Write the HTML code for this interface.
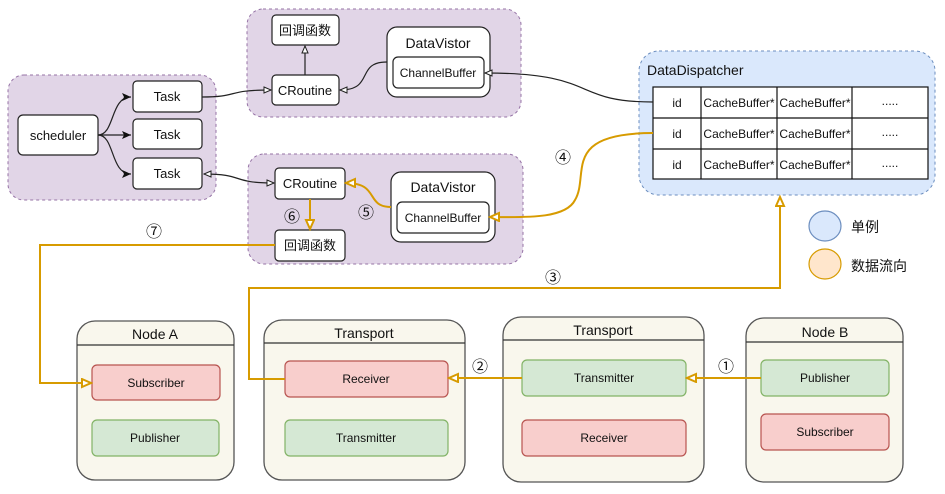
<!DOCTYPE html>
<html><head><meta charset="utf-8"><style>
html,body{margin:0;padding:0;background:#fff;}
svg{display:block;}
text{font-family:"Liberation Sans","Noto Sans CJK SC",sans-serif;fill:#111;}
</style></head><body>
<svg width="945" height="494" viewBox="0 0 945 494" xmlns="http://www.w3.org/2000/svg">
<defs>
<marker id="ob" markerWidth="10" markerHeight="10" refX="8" refY="4" orient="auto" markerUnits="userSpaceOnUse"><path d="M1,1 L8,4 L1,7 Z" fill="#fff" stroke="#222" stroke-width="1"/></marker>
<marker id="ob2" markerWidth="10" markerHeight="10" refX="1" refY="4" orient="auto" markerUnits="userSpaceOnUse"><path d="M8,1 L1,4 L8,7 Z" fill="#fff" stroke="#222" stroke-width="1"/></marker>
<marker id="fb" markerWidth="12" markerHeight="10" refX="10" refY="5" orient="auto" markerUnits="userSpaceOnUse"><path d="M1,1 L10,5 L1,9 L3,5 Z" fill="#111"/></marker>
<marker id="oo" markerWidth="12" markerHeight="12" refX="10" refY="5" orient="auto" markerUnits="userSpaceOnUse"><path d="M1,1 L10,5 L1,9 Z" fill="#fff" stroke="#d79b00" stroke-width="2"/></marker>
</defs>
<rect x="8" y="75" width="208" height="125" rx="16" fill="#e1d5e7" stroke="#9673a6" stroke-dasharray="3,3"/>
<rect x="247" y="9" width="274" height="108" rx="16" fill="#e1d5e7" stroke="#9673a6" stroke-dasharray="3,3"/>
<rect x="248" y="154" width="275" height="110" rx="16" fill="#e1d5e7" stroke="#9673a6" stroke-dasharray="3,3"/>
<rect x="639" y="51" width="296" height="144" rx="20" fill="#dae8fc" stroke="#6c8ebf" stroke-dasharray="3,3"/>
<text x="647" y="75" font-size="14">DataDispatcher</text>
<g stroke="#111" fill="#fff" stroke-width="1.2">
<rect x="653" y="87" width="275" height="92"/>
<line x1="653" y1="118" x2="928" y2="118"/><line x1="653" y1="149" x2="928" y2="149"/>
<line x1="701" y1="87" x2="701" y2="179"/><line x1="777" y1="87" x2="777" y2="179"/><line x1="852" y1="87" x2="852" y2="179"/>
</g>
<g font-size="12" text-anchor="middle">
<text x="677" y="107">id</text><text x="739" y="107">CacheBuffer*</text><text x="815" y="107">CacheBuffer*</text><text x="890" y="105">.....</text>
<text x="677" y="138">id</text><text x="739" y="138">CacheBuffer*</text><text x="815" y="138">CacheBuffer*</text><text x="890" y="136">.....</text>
<text x="677" y="169">id</text><text x="739" y="169">CacheBuffer*</text><text x="815" y="169">CacheBuffer*</text><text x="890" y="167">.....</text>
</g>
<g fill="#fff" stroke="#222" stroke-width="1.2">
<rect x="18" y="115" width="80" height="40" rx="5"/>
<rect x="133" y="81" width="69" height="31" rx="4"/>
<rect x="133" y="119" width="69" height="30" rx="4"/>
<rect x="133" y="158" width="69" height="31" rx="4"/>
<rect x="272" y="15" width="67" height="30" rx="4"/>
<rect x="272" y="75" width="67" height="30" rx="4"/>
<rect x="387" y="27" width="103" height="70" rx="10"/>
<rect x="393" y="57" width="91" height="31" rx="5"/>
<rect x="275" y="168" width="70" height="31" rx="4"/>
<rect x="275" y="230" width="70" height="31" rx="4"/>
<rect x="391" y="172" width="104" height="70" rx="10"/>
<rect x="397" y="202" width="92" height="31" rx="5"/>
</g>
<g font-size="13" text-anchor="middle">
<text x="58" y="140">scheduler</text>
<text x="167" y="101">Task</text><text x="167" y="139">Task</text><text x="167" y="178">Task</text>
<text x="305" y="35">回调函数</text><text x="305" y="95">CRoutine</text>
<text x="438" y="48" font-size="14">DataVistor</text><text x="438" y="77" font-size="12">ChannelBuffer</text>
<text x="310" y="188">CRoutine</text><text x="310" y="250">回调函数</text>
<text x="443" y="192" font-size="14">DataVistor</text><text x="443" y="222" font-size="12">ChannelBuffer</text>
</g>
<g fill="none" stroke="#222" stroke-width="1.2">
<path d="M98,135 C115,135 110,97 131,97" marker-end="url(#fb)"/>
<path d="M98,135 L131,135" marker-end="url(#fb)"/>
<path d="M98,135 C115,135 110,174 131,174" marker-end="url(#fb)"/>
<path d="M202,97 C240,97 225,90 271,90" marker-end="url(#ob)"/>
<path d="M387,62 C355,62 375,90 340,90" marker-end="url(#ob)"/>
<path d="M305,75 L305,46" marker-end="url(#ob)"/>
<path d="M653,102 C570,102 600,73 485,73" marker-end="url(#ob)"/>
<path d="M204,174 C245,174 230,183 274,183" marker-start="url(#ob2)" marker-end="url(#ob)"/>
</g>
<ellipse cx="825" cy="226" rx="16" ry="15" fill="#dae8fc" stroke="#6c8ebf" stroke-width="1.2"/>
<ellipse cx="825" cy="264" rx="16" ry="15" fill="#ffe6cc" stroke="#d79b00" stroke-width="1.2"/>
<text x="851" y="232" font-size="14">单例</text>
<text x="851" y="271" font-size="14">数据流向</text>
<g fill="#f9f7ed" stroke="#555" stroke-width="1.3">
<rect x="77" y="321" width="157" height="159" rx="18"/>
<rect x="264" y="320" width="201" height="160" rx="18"/>
<rect x="503" y="317" width="201" height="165" rx="18"/>
<rect x="746" y="318" width="157" height="164" rx="18"/>
</g>
<g stroke="#333" stroke-width="1.2">
<line x1="77" y1="345" x2="234" y2="345"/><line x1="264" y1="343" x2="465" y2="343"/>
<line x1="503" y1="340" x2="704" y2="340"/><line x1="746" y1="342" x2="903" y2="342"/>
</g>
<g font-size="14" text-anchor="middle">
<text x="155" y="339">Node A</text><text x="364" y="338">Transport</text>
<text x="603" y="335">Transport</text><text x="825" y="337">Node B</text>
</g>
<g stroke-width="1.2">
<rect x="92" y="365" width="128" height="35" rx="5" fill="#f8cecc" stroke="#b85450"/>
<rect x="92" y="420" width="127" height="36" rx="5" fill="#d5e8d4" stroke="#82b366"/>
<rect x="285" y="361" width="163" height="36" rx="5" fill="#f8cecc" stroke="#b85450"/>
<rect x="285" y="420" width="163" height="36" rx="5" fill="#d5e8d4" stroke="#82b366"/>
<rect x="522" y="360" width="164" height="36" rx="5" fill="#d5e8d4" stroke="#82b366"/>
<rect x="522" y="420" width="164" height="36" rx="5" fill="#f8cecc" stroke="#b85450"/>
<rect x="761" y="360" width="128" height="36" rx="5" fill="#d5e8d4" stroke="#82b366"/>
<rect x="761" y="414" width="128" height="36" rx="5" fill="#f8cecc" stroke="#b85450"/>
</g>
<g font-size="12" text-anchor="middle">
<text x="156" y="387">Subscriber</text><text x="155" y="442">Publisher</text>
<text x="366" y="383">Receiver</text><text x="366" y="442">Transmitter</text>
<text x="604" y="382">Transmitter</text><text x="604" y="442">Receiver</text>
<text x="825" y="382">Publisher</text><text x="825" y="436">Subscriber</text>
</g>
<g fill="none" stroke="#d79b00" stroke-width="2">
<path d="M653,133 C560,133 590,175 575,200 C565,220 520,217 490,217" marker-end="url(#oo)"/>
<path d="M391,207 C365,207 380,183 346,183" marker-end="url(#oo)"/>
<path d="M310,199 L310,229" marker-end="url(#oo)"/>
<path d="M275,245 L40,245 L40,383 L91,383" marker-end="url(#oo)"/>
<path d="M285,379 L249,379 L249,288 L780,288 L780,197" marker-end="url(#oo)"/>
<path d="M522,378 L449,378" marker-end="url(#oo)"/>
<path d="M761,378 L687,378" marker-end="url(#oo)"/>
</g>
<g font-size="16" text-anchor="middle">
<text x="726" y="372">①</text><text x="480" y="372">②</text><text x="553" y="283">③</text>
<text x="563" y="163">④</text><text x="366" y="218">⑤</text><text x="292" y="222">⑥</text><text x="154" y="237">⑦</text>
</g>
</svg>
</body></html>
